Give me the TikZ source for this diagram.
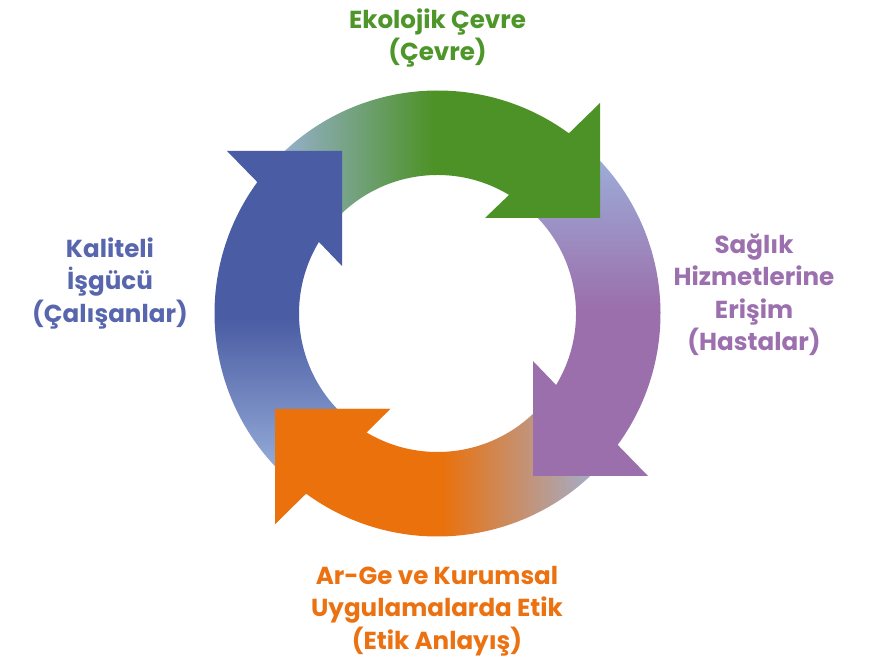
\documentclass[tikz,border=0pt]{standalone}
\usepackage{fontspec}
\setmainfont{Poppins}
\usepackage{tikz}
\usetikzlibrary{arrows.meta}

\definecolor{ablue}{HTML}{4A5CA3}
\definecolor{agreen}{HTML}{4D9226}
\definecolor{apurple}{HTML}{9B6FAB}
\definecolor{aorange}{HTML}{EA710C}
\definecolor{afade}{HTML}{9DB3DD}
\definecolor{tblue}{HTML}{5866AD}
\definecolor{tgreen}{HTML}{4E962A}
\definecolor{tpurple}{HTML}{9C70AE}
\definecolor{torange}{HTML}{EC7211}

\tikzset{
  lbl/.style={align=center, font=\bfseries\fontsize{14}{18.5}\selectfont},
  fadeblue/.style={top color=ablue, bottom color=afade, middle color=ablue},
  fadegreen/.style={left color=afade, right color=agreen, middle color=agreen},
  fadepurple/.style={top color=afade, bottom color=apurple, middle color=apurple},
  fadeorange/.style={left color=aorange, right color=afade, middle color=aorange},
}

\begin{document}
\begin{tikzpicture}[x=0.02cm, y=0.02cm]
	\fill[white] (0,0) rectangle (888,662);
	\useasboundingbox (0,0) rectangle (888,662);
	% the four arrows of the cycle, each head over the next tail
	\begin{scope}[shift={(437.5,348.5)}]
	\foreach \rot/\sty in {180/fadeorange, -90/fadepurple, 0/fadegreen, 90/fadeblue}
	  \shade[rotate=\rot, \sty] (140:223) arc[start angle=140, end angle=53.9, radius=223]
	    -- (162.5,210.5) -- (162.5,95.5) -- (47.5,95.5) -- (58.9:138.5)
	    arc[start angle=58.9, end angle=140, radius=138.5] -- cycle;
	% orange head lies on the blue tail
	\fill[rotate=180, aorange] (162.5,210.5) -- (162.5,95.5) -- (47.5,95.5) -- cycle;
	\end{scope}
	\node[lbl, text=tgreen] (eko) at (437.5,624) {Ekolojik Çevre\\(Çevre)};
	\node[lbl, text=tpurple] (saglik) at (754,367) {Sağlık\\Hizmetlerine\\Erişim\\(Hastalar)};
	\node[lbl, text=torange] (etik) at (437,51) {Ar-Ge ve Kurumsal\\Uygulamalarda Etik\\(Etik Anlayış)};
	\node[lbl, text=tblue] (isgucu) at (110,379) {Kaliteli\\İşgücü\\(Çalışanlar)};
\end{tikzpicture}
\end{document}
